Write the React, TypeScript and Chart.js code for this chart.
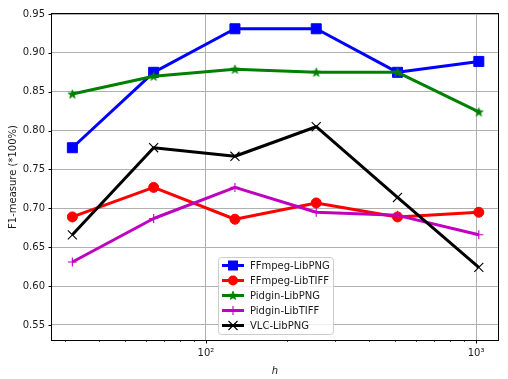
import React, { useEffect, useRef } from 'react';
import { Chart, registerables } from 'chart.js';
Chart.register(...registerables);

const hValues = [32, 64, 128, 256, 512, 1024];
const ffmpegLibPNG = [0.778, 0.875, 0.931, 0.931, 0.875, 0.889];
const ffmpegLibTIFF = [0.689, 0.727, 0.686, 0.707, 0.689, 0.695];
const pidginLibPNG = [0.847, 0.870, 0.879, 0.875, 0.875, 0.824];
const pidginLibTIFF = [0.631, 0.687, 0.727, 0.695, 0.691, 0.666];
const vlcLibPNG = [0.666, 0.778, 0.767, 0.805, 0.714, 0.624];

const seriesNames = ['FFmpeg-LibPNG', 'FFmpeg-LibTIFF', 'Pidgin-LibPNG', 'Pidgin-LibTIFF', 'VLC-LibPNG'];
const seriesColors = ['#0000ff', '#ff0000', '#008000', '#bf00bf', '#000000'];
const seriesMarkers = ['square', 'circle', 'star', 'plus', 'x'];

const yTicks = [0.55, 0.60, 0.65, 0.70, 0.75, 0.80, 0.85, 0.90, 0.95];
const xMajorTicks = [100, 1000];
const xMajorLabels = ['10²', '10³'];
const xMinorTicks = [30, 40, 50, 60, 70, 80, 90, 200, 300, 400, 500, 600, 700, 800, 900];

const yLabel = 'F1-measure (*100%)';
const xLabel = 'h';
const FONT = '"DejaVu Sans", sans-serif';

function starPath(ctx: CanvasRenderingContext2D, cx: number, cy: number, ro: number, ri: number) {
  ctx.beginPath();
  for (let i = 0; i < 10; i++) {
    const r = i % 2 === 0 ? ro : ri;
    const a = -Math.PI / 2 + (i * Math.PI) / 5;
    const px = cx + r * Math.cos(a);
    const py = cy + r * Math.sin(a);
    if (i === 0) ctx.moveTo(px, py);
    else ctx.lineTo(px, py);
  }
  ctx.closePath();
}

function makeStar(color: string) {
  const c = document.createElement('canvas');
  c.width = 11;
  c.height = 11;
  const ctx = c.getContext('2d')!;
  starPath(ctx, 5.5, 5.8, 4.6, 1.9);
  ctx.fillStyle = color;
  ctx.fill();
  ctx.strokeStyle = color;
  ctx.lineWidth = 0.8;
  ctx.stroke();
  return c;
}

function drawMarker(ctx: CanvasRenderingContext2D, kind: string, color: string, x: number, y: number) {
  ctx.save();
  ctx.fillStyle = color;
  ctx.strokeStyle = color;
  if (kind === 'square') {
    ctx.fillRect(x - 5, y - 5, 10, 10);
  } else if (kind === 'circle') {
    ctx.beginPath();
    ctx.arc(x, y, 5, 0, Math.PI * 2);
    ctx.fill();
  } else if (kind === 'star') {
    starPath(ctx, x, y + 0.3, 4.6, 1.9);
    ctx.fill();
    ctx.lineWidth = 0.8;
    ctx.stroke();
  } else if (kind === 'plus') {
    ctx.lineWidth = 1.1;
    ctx.beginPath();
    ctx.moveTo(x - 4.5, y);
    ctx.lineTo(x + 4.5, y);
    ctx.moveTo(x, y - 4.5);
    ctx.lineTo(x, y + 4.5);
    ctx.stroke();
  } else if (kind === 'x') {
    ctx.lineWidth = 1.1;
    ctx.beginPath();
    ctx.moveTo(x - 4.5, y - 4.5);
    ctx.lineTo(x + 4.5, y + 4.5);
    ctx.moveTo(x + 4.5, y - 4.5);
    ctx.lineTo(x - 4.5, y + 4.5);
    ctx.stroke();
  }
  ctx.restore();
}

const decorPlugin = {
  id: 'decor',
  afterDraw(chart: any) {
    const ctx: CanvasRenderingContext2D = chart.ctx;
    const { left, right, top, bottom } = chart.chartArea;
    const xs = chart.scales.x;
    const ys = chart.scales.y;
    ctx.save();
    ctx.strokeStyle = '#000';
    ctx.lineWidth = 1;
    ctx.beginPath();
    for (const v of yTicks) {
      const py = Math.round(ys.getPixelForValue(v)) + 0.5;
      ctx.moveTo(left - 3.5, py);
      ctx.lineTo(left, py);
    }
    for (const v of xMajorTicks) {
      const px = Math.round(xs.getPixelForValue(v)) + 0.5;
      ctx.moveTo(px, bottom);
      ctx.lineTo(px, bottom + 3.5);
    }
    ctx.stroke();
    ctx.lineWidth = 0.7;
    ctx.beginPath();
    for (const v of xMinorTicks) {
      const px = Math.round(xs.getPixelForValue(v)) + 0.5;
      ctx.moveTo(px, bottom);
      ctx.lineTo(px, bottom + 2);
    }
    ctx.stroke();
    ctx.lineWidth = 1;
    ctx.strokeStyle = '#000';
    ctx.strokeRect(Math.round(left) - 0.5, Math.round(top) - 0.5, Math.round(right - left) + 1, Math.round(bottom - top) + 1);

    const lx = 218.5, ly = 257.5, lw = 115, lh = 77;
    ctx.beginPath();
    const r = 3;
    ctx.moveTo(lx + r, ly);
    ctx.lineTo(lx + lw - r, ly);
    ctx.quadraticCurveTo(lx + lw, ly, lx + lw, ly + r);
    ctx.lineTo(lx + lw, ly + lh - r);
    ctx.quadraticCurveTo(lx + lw, ly + lh, lx + lw - r, ly + lh);
    ctx.lineTo(lx + r, ly + lh);
    ctx.quadraticCurveTo(lx, ly + lh, lx, ly + lh - r);
    ctx.lineTo(lx, ly + r);
    ctx.quadraticCurveTo(lx, ly, lx + r, ly);
    ctx.closePath();
    ctx.fillStyle = 'rgba(255,255,255,0.8)';
    ctx.fill();
    ctx.strokeStyle = '#cccccc';
    ctx.lineWidth = 1;
    ctx.stroke();
    ctx.font = '10px ' + FONT;
    ctx.textBaseline = 'middle';
    ctx.textAlign = 'left';
    seriesNames.forEach((name, i) => {
      const y = 265.5 + i * 15;
      ctx.strokeStyle = seriesColors[i];
      ctx.lineWidth = 3;
      ctx.beginPath();
      ctx.moveTo(222, y);
      ctx.lineTo(244, y);
      ctx.stroke();
      drawMarker(ctx, seriesMarkers[i], seriesColors[i], 233, y);
      ctx.fillStyle = '#1a1a1a';
      ctx.fillText(name, 250, y + 0.5);
    });

    ctx.fillStyle = '#1a1a1a';
    ctx.font = '10px ' + FONT;
    ctx.textAlign = 'center';
    ctx.textBaseline = 'middle';
    ctx.save();
    ctx.translate(13, (top + bottom) / 2);
    ctx.rotate(-Math.PI / 2);
    ctx.fillText(yLabel, 0, 0);
    ctx.restore();
    ctx.font = 'italic 10px ' + FONT;
    ctx.fillText(xLabel, (left + right) / 2, 371);
    ctx.restore();
  },
};

export default function App() {
  const ref = useRef<HTMLCanvasElement | null>(null);
  useEffect(() => {
    if (!ref.current) return;
    const seriesData = [ffmpegLibPNG, ffmpegLibTIFF, pidginLibPNG, pidginLibTIFF, vlcLibPNG];
    const pointStyles: any[] = ['rect', 'circle', makeStar(seriesColors[2]), 'cross', 'crossRot'];
    const radii = [7.07, 5, 5, 4.5, 6.4];
    const pbw = [1, 1, 1, 1.1, 1.1];
    const datasets = seriesData.map((vals, i) => ({
      label: seriesNames[i],
      data: vals.map((v, j) => ({ x: hValues[j], y: v })),
      borderColor: seriesColors[i],
      backgroundColor: seriesColors[i],
      borderWidth: 3,
      pointStyle: pointStyles[i],
      pointRadius: radii[i],
      pointHoverRadius: radii[i],
      pointBackgroundColor: seriesColors[i],
      pointBorderColor: seriesColors[i],
      pointBorderWidth: pbw[i],
      tension: 0,
      order: 4 - i,
      borderJoinStyle: 'round' as const,
      clip: false as any,
    }));
    const chart = new Chart(ref.current, {
      type: 'line',
      data: { datasets },
      plugins: [decorPlugin],
      options: {
        animation: false,
        responsive: false,
        maintainAspectRatio: false,
        layout: { padding: { top: 14, right: 10, bottom: 0, left: 0 } },
        plugins: { legend: { display: false }, tooltip: { enabled: false } },
        scales: {
          x: {
            type: 'logarithmic',
            min: 26.9,
            max: 1206,
            afterFit: (s: any) => { s.height = 39; },
            afterBuildTicks: (s: any) => {
              s.ticks = [...xMinorTicks, ...xMajorTicks].sort((a, b) => a - b).map((v) => ({ value: v }));
            },
            border: { display: false },
            grid: {
              drawTicks: false,
              lineWidth: 1,
              color: (c: any) => (c.tick && xMajorTicks.includes(c.tick.value) ? '#b0b0b0' : 'rgba(0,0,0,0)'),
            },
            ticks: {
              autoSkip: false,
              maxRotation: 0,
              padding: 7,
              color: '#1a1a1a',
              font: { family: FONT, size: 10 },
              callback: (v: any) => {
                const idx = xMajorTicks.indexOf(Number(v));
                return idx >= 0 ? xMajorLabels[idx] : '';
              },
            },
          },
          y: {
            type: 'linear',
            min: 0.5307,
            max: 0.95,
            afterFit: (s: any) => { s.width = 52; },
            afterBuildTicks: (s: any) => {
              s.ticks = yTicks.map((v) => ({ value: v }));
            },
            border: { display: false },
            grid: { drawTicks: false, lineWidth: 1, color: '#b0b0b0' },
            ticks: {
              padding: 7,
              color: '#1a1a1a',
              font: { family: FONT, size: 10 },
              callback: (v: any) => Number(v).toFixed(2),
            },
          },
        },
      },
    });
    return () => chart.destroy();
  }, []);
  return (
    <div style={{ position: 'fixed', left: 0, top: 0, width: 508, height: 379, background: '#fff' }}>
      <canvas ref={ref} width={508} height={379} style={{ width: 508, height: 379 }} />
    </div>
  );
}
